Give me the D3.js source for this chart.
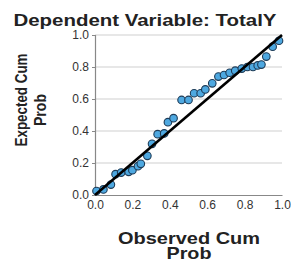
<!DOCTYPE html>
<html>
<head>
<meta charset="utf-8">
<script src="https://cdn.jsdelivr.net/npm/d3@7"></script>
<style>
  body { margin: 0; background: #fff; }
  svg { display: block; font-family: "Liberation Sans", Arial, sans-serif; }
</style>
</head>
<body>
<svg id="chart" width="291" height="262"></svg>
<script>
const observedCum = [0.008, 0.045, 0.085, 0.11, 0.14, 0.18, 0.2, 0.23, 0.245, 0.28, 0.305, 0.335, 0.37, 0.39, 0.42,
  0.463, 0.5, 0.53, 0.565, 0.59, 0.627, 0.66, 0.69, 0.72, 0.75, 0.785, 0.815, 0.845, 0.87, 0.89, 0.916, 0.95, 0.984];
const expectedCum = [0.025, 0.035, 0.065, 0.13, 0.14, 0.145, 0.155, 0.18, 0.195, 0.245, 0.32, 0.38, 0.385, 0.455, 0.48,
  0.594, 0.594, 0.636, 0.636, 0.66, 0.698, 0.74, 0.75, 0.764, 0.777, 0.79, 0.80, 0.80, 0.81, 0.815, 0.865, 0.927, 0.964];
const tickValues = [0, 0.2, 0.4, 0.6, 0.8, 1.0];
const refLine = [[0, 0], [1, 1]];

const svg = d3.select("#chart");
const x = d3.scaleLinear().domain([0, 1]).range([95, 282]);
const y = d3.scaleLinear().domain([0, 1]).range([195, 35]);

// horizontal grid
svg.append("g")
  .selectAll("line")
  .data(tickValues.slice(1))
  .enter().append("line")
  .attr("x1", x(0)).attr("x2", x(1))
  .attr("y1", d => y(d)).attr("y2", d => y(d))
  .attr("stroke", "#cfcfcf").attr("stroke-width", 1);

const yAxis = svg.append("g")
  .attr("transform", `translate(${x(0)},0)`)
  .call(d3.axisLeft(y).tickValues(tickValues).tickFormat(d3.format(".1f")).tickSize(3).tickPadding(3));
const xAxis = svg.append("g")
  .attr("transform", `translate(0,${y(0)})`)
  .call(d3.axisBottom(x).tickValues(tickValues).tickFormat(d3.format(".1f")).tickSize(0).tickPadding(5));

[yAxis, xAxis].forEach(a => {
  a.select(".domain").attr("stroke", "#888").attr("stroke-width", 1.2);
  a.selectAll(".tick line").attr("stroke", "#888");
  a.selectAll("text").attr("font-size", "12px").attr("fill", "#333")
    .attr("font-family", "Liberation Sans, Arial, sans-serif");
});

// points
svg.append("g")
  .selectAll("circle")
  .data(observedCum.map((v, i) => [v, expectedCum[i]]))
  .enter().append("circle")
  .attr("cx", d => x(d[0]))
  .attr("cy", d => y(d[1]))
  .attr("r", 3.8)
  .attr("fill", "#4ea8e0")
  .attr("stroke", "#1d3b57")
  .attr("stroke-width", 1.1);

// reference line
svg.append("path")
  .datum(refLine)
  .attr("d", d3.line().x(d => x(d[0])).y(d => y(d[1])))
  .attr("stroke", "#000").attr("stroke-width", 2.6).attr("fill", "none");

// title
svg.append("text")
  .attr("x", 145).attr("y", 26)
  .attr("text-anchor", "middle")
  .attr("font-size", "17px").attr("font-weight", "bold").attr("fill", "#222")
  .attr("textLength", 263).attr("lengthAdjust", "spacingAndGlyphs")
  .text("Dependent Variable: TotalY");

// x label
svg.append("text")
  .attr("x", 189).attr("y", 244)
  .attr("text-anchor", "middle")
  .attr("font-size", "17px").attr("font-weight", "bold").attr("fill", "#222")
  .attr("textLength", 142).attr("lengthAdjust", "spacingAndGlyphs")
  .text("Observed Cum");
svg.append("text")
  .attr("x", 189).attr("y", 259)
  .attr("text-anchor", "middle")
  .attr("font-size", "17px").attr("font-weight", "bold").attr("fill", "#222")
  .attr("textLength", 45).attr("lengthAdjust", "spacingAndGlyphs")
  .text("Prob");

// y label
svg.append("text")
  .attr("transform", "translate(27,100) rotate(-90)")
  .attr("text-anchor", "middle")
  .attr("font-size", "17px").attr("font-weight", "bold").attr("fill", "#222")
  .attr("textLength", 93).attr("lengthAdjust", "spacingAndGlyphs")
  .text("Expected Cum");
svg.append("text")
  .attr("transform", "translate(46,110) rotate(-90)")
  .attr("text-anchor", "middle")
  .attr("font-size", "17px").attr("font-weight", "bold").attr("fill", "#222")
  .attr("textLength", 32).attr("lengthAdjust", "spacingAndGlyphs")
  .text("Prob");
</script>
</body>
</html>
